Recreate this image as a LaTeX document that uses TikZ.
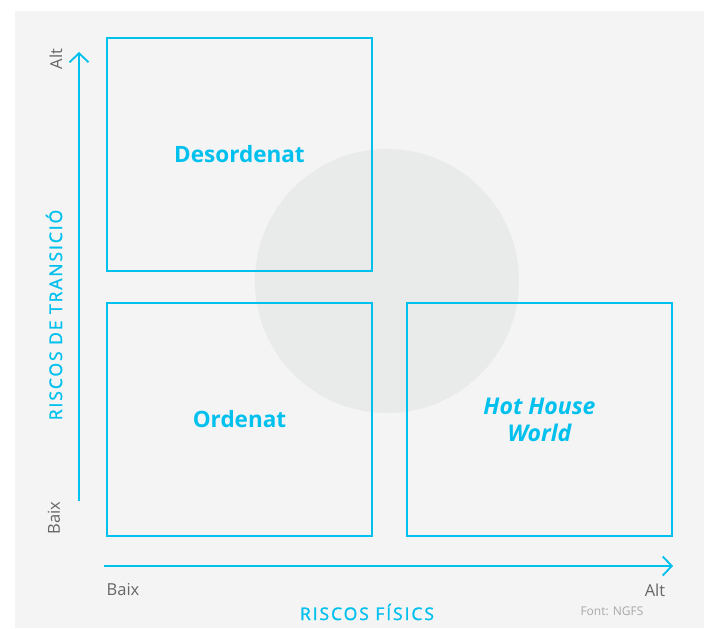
\documentclass[tikz,border=0pt]{standalone}
\usepackage{fontspec}
\setmainfont{Open Sans}
\usetikzlibrary{arrows.meta}
\definecolor{cy}{HTML}{00C0EE}
\definecolor{bgg}{HTML}{F4F4F4}
\definecolor{circ}{HTML}{E9EBEA}
\definecolor{lbl}{HTML}{666666}
\definecolor{src}{HTML}{A8A8A8}
\tikzset{
  quad/.style={draw=cy, line width=1.8pt, minimum width=265pt, minimum height=233pt, inner sep=0pt},
  quadtxt/.style={text=cy, font=\fontsize{22.5}{27}\selectfont\bfseries, align=center},
  axis/.style={draw=cy, line width=1.8pt, -{Straight Barb[length=9pt,width=19pt,line width=1.8pt]}},
  ends/.style={text=lbl, font=\fontsize{16.5}{19}\selectfont},
  axtitle/.style={text=cy, font=\fontsize{17.5}{20}\selectfont\addfontfeatures{LetterSpace=11,FakeBold=1.3}},
}
\begin{document}
\begin{tikzpicture}[x=1pt,y=-1pt]
\useasboundingbox (0,0) rectangle (704,629);
\fill[bgg] (15,11) rectangle (704,628);
\fill[circ] (387,281) circle (132);
\node[quad] (des) at (239.5,154.5) {};
\node[quad] (ord) at (239.5,419.5) {};
\node[quad] (hot) at (539.5,419.5) {};
\node[quadtxt] at (des.center) {Desordenat};
\node[quadtxt] at (ord.center) {Ordenat};
\node[quadtxt, font=\fontsize{23}{27}\selectfont\bfseries\itshape] at (hot.center) {Hot House\\World};
\coordinate (ys) at (79,501);
\coordinate (ye) at (79,52);
\coordinate (xs) at (104,566);
\coordinate (xe) at (673,566);
\draw[axis] (ys) -- (ye);
\draw[axis] (xs) -- (xe);
\node[ends, rotate=90] (yalt) at (56,59) {Alt};
\node[ends, rotate=90] (ybaix) at (54,518) {Baix};
\node[ends] (xbaix) at (123,590) {Baix};
\node[ends] (xalt) at (655,590) {Alt};
\node[axtitle, rotate=90] (yt) at (54,315) {RISCOS DE TRANSICIÓ};
\node[axtitle] (xt) at (367,612) {RISCOS FÍSICS};
\node[text=src, font=\fontsize{12}{14}\selectfont] (font) at (612,611) {Font: NGFS};
\end{tikzpicture}
\end{document}
